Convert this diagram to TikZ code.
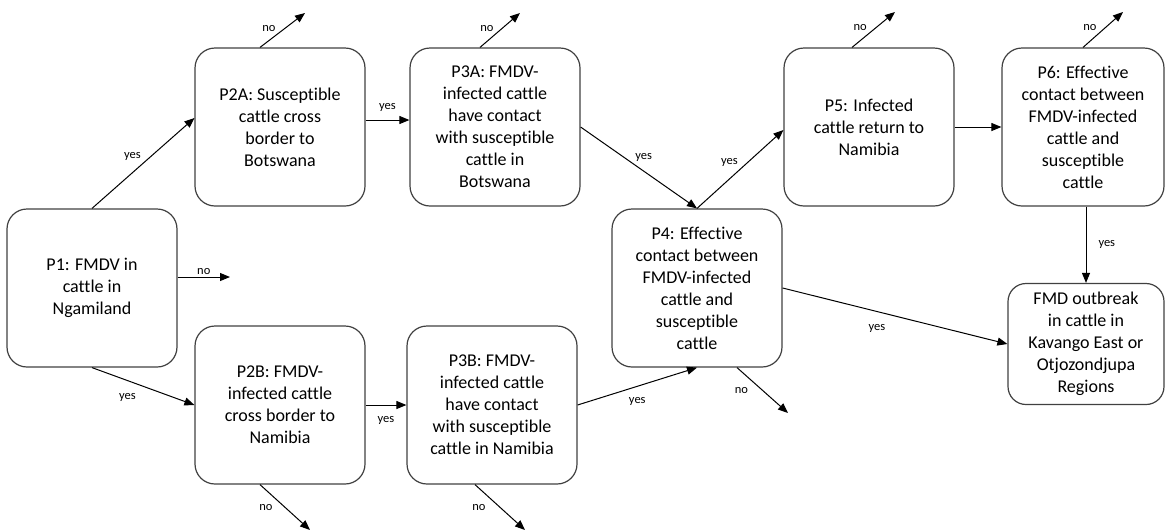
\documentclass[tikz,border=0pt]{standalone}
\usepackage{fontspec}
\setmainfont{Carlito}[Ligatures=NoCommon]
\usetikzlibrary{arrows.meta}
\tikzset{
  stepbox/.style={
    draw=black!75,
    line width=1.2pt,
    rounded corners=20pt,
    align=center,
    minimum width=170pt,
    minimum height=158pt,
    inner sep=2pt,
    font=\fontsize{18}{22}\selectfont
  },
  endbox/.style={stepbox, minimum width=156pt, minimum height=121pt, rounded corners=18pt},
  arr/.style={-{Triangle[length=10pt,width=8pt]}, line width=1pt},
  lbl/.style={font=\fontsize{12.5}{14}\selectfont, inner sep=2pt}
}

\begin{document}
\begin{tikzpicture}[x=1pt, y=-1pt]
\useasboundingbox (0,0) rectangle (1165,531);

% Decision nodes
\node[stepbox] (p1) at (92,288) {P1: FMDV in\\cattle in\\Ngamiland};
\node[stepbox] (p2a) at (280,127) {P2A: Susceptible\\cattle cross\\border to\\Botswana};
\node[stepbox] (p3a) at (495,127) {P3A: FMDV-\\infected cattle\\have contact\\with susceptible\\cattle in\\Botswana};
\node[stepbox] (p2b) at (280,405) {P2B: FMDV-\\infected cattle\\cross border to\\Namibia};
\node[stepbox] (p3b) at (492,405) {P3B: FMDV-\\infected cattle\\have contact\\with susceptible\\cattle in Namibia};
\node[stepbox] (p4) at (697,288) {P4: Effective\\contact between\\FMDV-infected\\cattle and\\susceptible\\cattle};
\node[stepbox] (p5) at (869,127) {P5: Infected\\cattle return to\\Namibia};
\node[stepbox, minimum width=162pt] (p6) at (1083,127) {P6: Effective\\contact between\\FMDV-infected\\cattle and\\susceptible\\cattle};
\node[endbox] (outb) at (1086,344) {FMD outbreak\\in cattle in\\Kavango East or\\Otjozondjupa\\Regions};

% Dead ends
\coordinate (p1no) at (230,277);
\coordinate (p2ano) at (305,13);
\coordinate (p3ano) at (520,13);
\coordinate (p5no) at (895,12);
\coordinate (p6no) at (1123,12);
\coordinate (p2bno) at (310,530);
\coordinate (p3bno) at (525,530);
\coordinate (p4no) at (788,413);

% yes paths
\draw[arr] (p1.north) -- node[lbl, above left] {yes} ([yshift=9pt]p2a.west);
\draw[arr] (p1.south) -- node[lbl, below left=5pt] {yes} (p2b.west);
\draw[arr] ([yshift=7pt]p2a.east) -- node[lbl, above=6pt] {yes} ([yshift=7pt]p3a.west);
\draw[arr] (p2b.east) -- node[lbl, below=9pt] {yes} (p3b.west);
\draw[arr] (p3a.east) -- node[lbl, pos=0.45, above right=0pt] {yes} (p4.north);
\draw[arr] (p3b.east) -- node[lbl, below=9pt] {yes} (p4.south);
\draw[arr] (p4.north) -- node[lbl, above left] {yes} ([yshift=-3pt]p5.west);
\draw[arr] (p5.east) -- (p6.west);
\draw[arr] (p6.south -| outb.north) -- node[lbl, right=10pt] {yes} (outb.north);
\draw[arr] (p4.east) -- node[lbl, pos=0.42, below=10pt] {yes} (outb.west);

% no paths
\draw[arr] ([yshift=11pt]p1.east) -- node[lbl, above] {no} (p1no);
\draw[arr] ([xshift=-20pt]p2a.north) -- node[lbl, pos=0.4, above left] {no} (p2ano);
\draw[arr] ([xshift=-15pt]p3a.north) -- node[lbl, pos=0.4, above left] {no} (p3ano);
\draw[arr] ([xshift=-17pt]p5.north) -- node[lbl, pos=0.4, above left] {no} (p5no);
\draw[arr] (p6.north) -- node[lbl, pos=0.4, above left] {no} (p6no);
\draw[arr] ([xshift=-20pt]p2b.south) -- node[lbl, left=10pt] {no} (p2bno);
\draw[arr] ([xshift=-17pt]p3b.south) -- node[lbl, left=12pt] {no} (p3bno);
\draw[arr] ([xshift=40pt]p4.south) -- node[lbl, left=12pt] {no} (p4no);

\end{tikzpicture}
\end{document}
